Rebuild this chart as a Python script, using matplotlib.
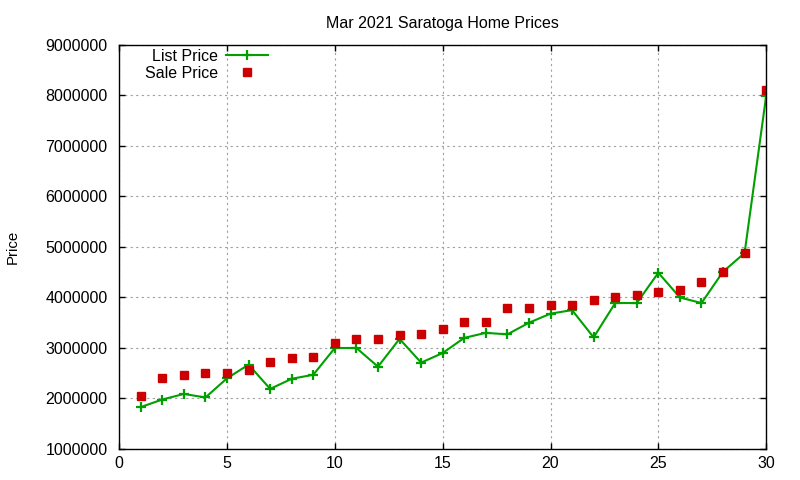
import matplotlib
matplotlib.use('Agg')
import matplotlib.pyplot as plt

# values
days = list(range(1, 31))
list_price = [1830000, 1980000, 2090000, 2020000, 2400000, 2670000, 2190000, 2390000, 2470000, 3000000,
              3000000, 2630000, 3180000, 2710000, 2900000, 3200000, 3300000, 3270000, 3500000, 3680000,
              3750000, 3210000, 3890000, 3890000, 4490000, 4000000, 3890000, 4510000, 4880000, 7990000]
sale_price = [2050000, 2410000, 2470000, 2510000, 2510000, 2570000, 2720000, 2800000, 2820000, 3100000,
              3170000, 3170000, 3250000, 3270000, 3370000, 3510000, 3510000, 3800000, 3800000, 3860000,
              3850000, 3950000, 4010000, 4050000, 4110000, 4150000, 4310000, 4510000, 4880000, 8100000]
x_ticks = [0, 5, 10, 15, 20, 25, 30]
y_ticks = [1000000, 2000000, 3000000, 4000000, 5000000, 6000000, 7000000, 8000000, 9000000]

plt.rcParams['font.family'] = ['Liberation Sans', 'DejaVu Sans']
plt.rcParams['font.size'] = 11.5

fig = plt.figure(figsize=(8, 4.8), dpi=100)
ax = fig.add_axes([0.149, 0.0646, 0.8087, 0.8417])

ax.plot(days, list_price, color='#00a000', lw=1.5, marker='+', ms=6.5, mew=1.6, label='List Price')
ax.plot(days, sale_price, ls='none', color='#cc0000', marker='s', ms=6, label='Sale Price')

ax.set_xlim(0, 30)
ax.set_ylim(1000000, 9000000)
ax.set_xticks(x_ticks)
ax.set_yticks(y_ticks)
ax.set_yticklabels([str(v) for v in y_ticks])
ax.tick_params(direction='in', length=4.5, width=1, top=True, right=True)
ax.tick_params(axis='x', pad=5)
ax.tick_params(axis='y', pad=8.5)
ax.grid(True, color='#a0a0a0', ls=(0, (2, 3)), lw=0.8)
for s in ax.spines.values():
    s.set_linewidth(1)

ax.set_title('Mar 2021 Saratoga Home Prices', fontsize=11.5, pad=12)
ax.set_ylabel('Price', fontsize=10.8)
ax.yaxis.set_label_coords(-0.153, 0.5)

ax.legend(loc='upper left', bbox_to_anchor=(0.04, 0.99), frameon=False, markerfirst=False,
          handlelength=2.6, handletextpad=0.5, labelspacing=0.1, borderpad=0, borderaxespad=0)

fig.savefig('out.png', dpi=100)
